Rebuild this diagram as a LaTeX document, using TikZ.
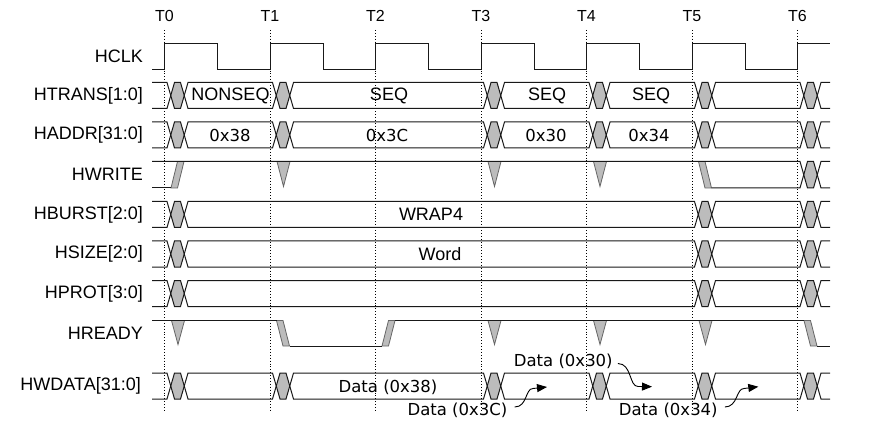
\documentclass[tikz,border=0pt]{standalone}
\usepackage{fontspec}
\setmainfont{Liberation Sans}
\newfontfamily\dvs{DejaVu Sans}
\usetikzlibrary{arrows.meta}
\def\tA{164.5}\def\tB{270}\def\tC{375.5}\def\tD{481}\def\tE{586.5}\def\tF{692}\def\tG{797.5}
\newcommand\hexfill[3]{\fill[gonly] ({#1+6.25},{(#2+#3)/2}) -- ({#1+10},#2) -- ({#1+16},#2) -- ({#1+19.75},{(#2+#3)/2}) -- ({#1+16},#3) -- ({#1+10},#3) -- cycle;}
\newcommand\busrow[3]{%
  \foreach \t in {#3} {\hexfill{\t}{#1}{#2}}
  \draw[sig] (152,#1) \foreach \t in {#3} { -- ({\t+2.5},#1) -- ({\t+10},#2) -- ({\t+16},#2) -- ({\t+23.5},#1)} -- (830,#1);
  \draw[sig] (152,#2) \foreach \t in {#3} { -- ({\t+2.5},#2) -- ({\t+10},#1) -- ({\t+16},#1) -- ({\t+23.5},#2)} -- (830,#2);
}
\newcommand\vtri[3]{\filldraw[gfill] ({#1+7},#2) -- ({#1+20},#2) -- ({#1+13.5},{#3-1.5}) -- cycle;}
\newcommand\pfall[3]{\filldraw[gfill] ({#1+6.5},#2) -- ({#1+13},#2) -- ({#1+19.5},#3) -- ({#1+13},#3) -- cycle;}
\newcommand\prise[3]{\filldraw[gfill] ({#1+6.5},#3) -- ({#1+13},#3) -- ({#1+19.5},#2) -- ({#1+13},#2) -- cycle;}
\begin{document}
\begin{tikzpicture}[x=1pt,y=-1pt,
  sig/.style={line width=1pt,black!90},
  tick/.style={line width=0.8pt,black,dash pattern=on 0.9pt off 2pt},
  gonly/.style={fill={rgb,255:red,188;green,188;blue,188}},
  gfill/.style={fill={rgb,255:red,188;green,188;blue,188},draw=black!60,line width=0.8pt},
  lab/.style={font=\fontsize{18}{20}\selectfont,anchor=east,inner sep=0},
  tl/.style={font=\fontsize{16}{18}\selectfont,inner sep=0},
  val/.style={font=\fontsize{18}{20}\selectfont,inner sep=0},
  hex/.style={font=\dvs\fontsize{16.5}{18}\selectfont,inner sep=0},
  darr/.style={line width=0.9pt,black,-{Triangle[length=10pt,width=8pt]}}
]
\useasboundingbox[fill=white] (0,0) rectangle (872,430);
% time markers
\foreach \t/\n in {\tA/0,\tB/1,\tC/2,\tD/3,\tE/4,\tF/5,\tG/6} {
  \node[tl] (T\n) at (\t,16) {T\n};
  \draw[tick] (\t,30) -- (\t,411);
}
% signal names
\node[lab] (hclk) at (143,56.5) {HCLK};
\node[lab] (htrans) at (143,95.5) {HTRANS[1:0]};
\node[lab] (haddr) at (143,135) {HADDR[31:0]};
\node[lab] (hwrite) at (143,174.5) {HWRITE};
\node[lab] (hburst) at (143,214.5) {HBURST[2:0]};
\node[lab] (hsize) at (143,254) {HSIZE[2:0]};
\node[lab] (hprot) at (143,293.5) {HPROT[3:0]};
\node[lab] (hready) at (143,333) {HREADY};
\node[lab] (hwdata) at (141,386) {HWDATA[31:0]};
% clock
\draw[sig] (152,69.5) \foreach \t in {\tA,\tB,\tC,\tD,\tE,\tF} { -- (\t,69.5) -- (\t,43.5) -- ({\t+53},43.5) -- ({\t+53},69.5) } -- (\tG,69.5) -- (\tG,43.5) -- (830,43.5);
% buses
\busrow{82.5}{108.5}{\tA,\tB,\tD,\tE,\tF,\tG}
\busrow{122}{148}{\tA,\tB,\tD,\tE,\tF,\tG}
\busrow{201.5}{227.5}{\tA,\tF,\tG}
\busrow{241}{267}{\tA,\tF,\tG}
\busrow{280.5}{306.5}{\tA,\tF,\tG}
\busrow{373}{399}{\tA,\tB,\tD,\tE,\tF,\tG}
% HWRITE
\prise{\tA}{161.5}{188}
\vtri{\tB}{161.5}{188}
\vtri{\tD}{161.5}{188}
\vtri{\tE}{161.5}{188}
\pfall{\tF}{161.5}{188}
\hexfill{\tG}{161.5}{188}
\draw[sig] (152,161.5) -- ({\tG+2.5},161.5) -- ({\tG+10},188) -- ({\tG+16},188) -- ({\tG+23.5},161.5) -- (830,161.5);
\draw[sig] (152,188) -- ({\tA+6.5},188);
\draw[sig] ({\tF+19.5},188) -- ({\tG+2.5},188) -- ({\tG+10},161.5) -- ({\tG+16},161.5) -- ({\tG+23.5},188) -- (830,188);
% HREADY
\vtri{\tA}{320.5}{346}
\vtri{\tD}{320.5}{346}
\vtri{\tE}{320.5}{346}
\vtri{\tF}{320.5}{346}
\pfall{\tB}{320.5}{346}
\prise{\tC}{320.5}{346}
\pfall{\tG}{320.5}{346}
\draw[sig] (152,320.5) -- ({\tB+6.5},320.5);
\draw[sig] ({\tB+19.5},346) -- ({\tC+6.5},346);
\draw[sig] ({\tC+19.5},320.5) -- ({\tG+6.5},320.5);
\draw[sig] ({\tG+19.5},346) -- (830,346);
% values
\node[val] (nonseq) at (230.5,96) {NONSEQ};
\node[val] (seqa) at (389,96) {SEQ};
\node[val] (seqb) at (547,96) {SEQ};
\node[val] (seqc) at (651,96) {SEQ};
\node[hex] (a38) at (230,135.5) {0x38};
\node[hex] (a3c) at (387,135.5) {0x3C};
\node[hex] (a30) at (546,135.5) {0x30};
\node[hex] (a34) at (649,135.5) {0x34};
\node[val] (wrap) at (431,214.5) {WRAP4};
\node[val] (word) at (440,254) {Word};
\node[hex] (d38) at (388,387) {Data (0x38)};
\node[hex] (d3c) at (457.5,410.5) {Data (0x3C)};
\node[hex] (d30) at (563.3,361.5) {Data (0x30)};
\node[hex] (d34) at (668.3,410.5) {Data (0x34)};
% data arrows
\coordinate (p3c) at (547,387);
\coordinate (p30) at (652,386.7);
\coordinate (p34) at (758.3,386.7);
\draw[darr] ([xshift=7pt,yshift=3.5pt]d3c.east) .. controls +(13,0) and +(-8,0) .. (533,388.5) -- (p3c);
\draw[darr] ([xshift=5pt,yshift=-2pt]d30.east) .. controls +(14,0) and +(-9,0) .. (638,386.5) -- (p30);
\draw[darr] ([xshift=7pt,yshift=3.5pt]d34.east) .. controls +(13,0) and +(-8,0) .. (744,388.5) -- (p34);
\end{tikzpicture}
\end{document}
